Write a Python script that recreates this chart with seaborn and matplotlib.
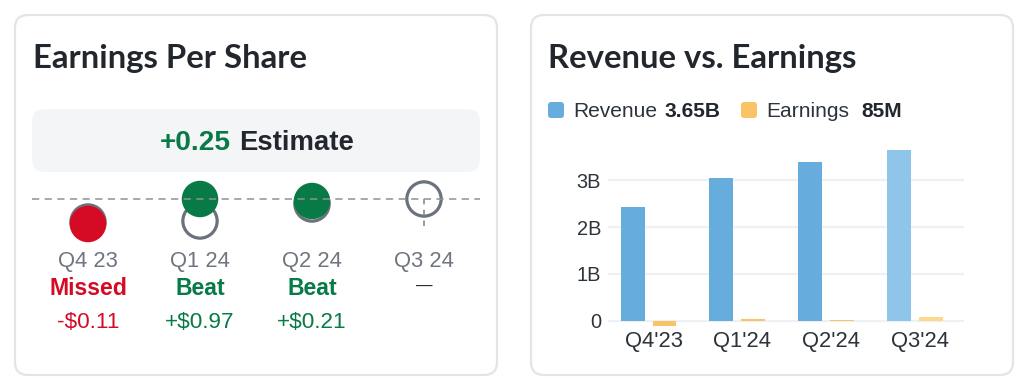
import numpy as np
import pandas as pd
import seaborn as sns
import matplotlib
matplotlib.use("Agg")
import matplotlib.pyplot as plt
from matplotlib.patches import FancyBboxPatch
from matplotlib.transforms import ScaledTranslation, blended_transform_factory

# ---------------- data ----------------
eps_quarters = ["Q4 23", "Q1 24", "Q2 24", "Q3 24"]
eps_estimate = [0.02, 0.03, 0.20, 0.25]
eps_actual = [0.00, 0.25, 0.23, np.nan]
eps_status = ["Missed", "Beat", "Beat", "—"]
eps_surprise = ["-$0.11", "+$0.97", "+$0.21", ""]
next_estimate_value = 0.25
next_estimate_label = "+0.25"

rev_quarters = ["Q4'23", "Q1'24", "Q2'24", "Q3'24"]
revenue_b = [2.42, 3.05, 3.40, 3.65]
earnings_b = [-0.107, 0.036, 0.02, 0.085]
rev_ticks = [0, 1, 2, 3]
rev_tick_labels = ["0", "1B", "2B", "3B"]
legend_names = ["Revenue", "Earnings"]
legend_values = ["3.65B", "85M"]

# ---------------- style ----------------
sns.set_theme(style="white")
plt.rcParams["font.family"] = ["Liberation Sans", "DejaVu Sans"]

DARK = "#22272e"
GRAY = "#6f7680"
RED = "#d50b26"
GREEN = "#077a46"
RING = "#6b727c"
BORDER = "#e2e4e8"
REV = "#66acdc"
REV_LIGHT = "#8fc5e9"
ERN = "#f8c466"
ERN_LIGHT = "#fdd98f"

W, H = 1032, 390
fig = plt.figure(figsize=(W / 100, H / 100), dpi=100)
fig.patch.set_facecolor("white")

bg = fig.add_axes([0, 0, 1, 1], zorder=0)
bg.set_xlim(0, W)
bg.set_ylim(H, 0)
bg.axis("off")

def px(v):
    return v * 0.72

# cards
for x0, x1 in [(15, 497), (531, 1013)]:
    bg.add_patch(FancyBboxPatch((x0, 15), x1 - x0, 360,
                                boxstyle="round,pad=0,rounding_size=13",
                                fc="white", ec=BORDER, lw=1.6))

# titles: pick the narrowest available bold face, size it to the card title width
renderer = fig.canvas.get_renderer()
candidates = [("Liberation Sans Narrow", "normal"), ("DejaVu Sans", "condensed"),
              ("Roboto", "normal"), ("Lato", "normal"), ("Liberation Sans", "normal")]
best = None
for fam, stretch in candidates:
    t = bg.text(0, 0, "Earnings Per Share", fontsize=px(35.5), fontweight="bold",
                family=fam, fontstretch=stretch)
    w = t.get_window_extent(renderer).width
    t.remove()
    if best is None or w < best[2]:
        best = (fam, stretch, w)
title_fam, title_stretch, title_w = best
title_size = px(35.5) * 274.0 / title_w

bg.text(33, 68, "Earnings Per Share", fontsize=title_size, fontweight="bold",
        family=title_fam, fontstretch=title_stretch, color=DARK,
        va="baseline", ha="left")
bg.text(548, 68, "Revenue vs. Earnings", fontsize=title_size, fontweight="bold",
        family=title_fam, fontstretch=title_stretch, color=DARK,
        va="baseline", ha="left")

# estimate box
bg.add_patch(FancyBboxPatch((32, 109), 448, 63,
                            boxstyle="round,pad=0,rounding_size=13",
                            fc="#f4f5f7", ec="none"))
bg.text(231, 150, next_estimate_label, fontsize=px(28), fontweight="bold",
        color=GREEN, va="baseline", ha="right")
bg.text(239, 150, "Estimate", fontsize=px(27.5), fontweight="bold",
        color=DARK, va="baseline", ha="left")

# ---------------- EPS dot chart ----------------
ax1 = fig.add_axes([32 / W, (H - 250) / H, 448 / W, 80 / H], zorder=2)
ax1.patch.set_alpha(0)
xs = np.arange(len(eps_quarters))
eps_df = pd.DataFrame({"x": xs, "estimate": eps_estimate,
                       "actual": eps_actual, "status": eps_status})

sns.scatterplot(data=eps_df, x="x", y="estimate", s=610, color=RING,
                facecolor="none", edgecolor=RING, linewidth=2.3,
                ax=ax1, legend=False, zorder=3)
sns.scatterplot(data=eps_df.dropna(subset=["actual"]), x="x", y="actual",
                hue="status", palette={"Missed": RED, "Beat": GREEN},
                s=690, linewidth=0, ax=ax1, legend=False, zorder=4)
ax1.axhline(next_estimate_value, color="#8e939a", lw=1.3, ls=(0, (4, 3)),
            alpha=0.85, zorder=6)
ax1.vlines(xs[-1], next_estimate_value - 0.27, next_estimate_value,
           color="#8e939a", lw=1.3, ls=(0, (3, 3)), zorder=6)
ax1.set_xlim(-0.5, 3.5)
ax1.set_ylim(-0.26, 0.54)
ax1.axis("off")

tr = blended_transform_factory(ax1.transData, bg.transData)
for i, q in enumerate(eps_quarters):
    bg.text(i, 267, q, transform=tr, ha="center", va="baseline",
            fontsize=px(22), color=GRAY)
    st = eps_status[i]
    col = RED if st == "Missed" else (GREEN if st == "Beat" else DARK)
    if st == "—":
        bg.text(i, 290.5, st, transform=tr, ha="center", va="baseline",
                fontsize=px(16.5), color=DARK)
    else:
        bg.text(i, 295, st, transform=tr, ha="center", va="baseline",
                fontsize=px(23), fontweight="bold", color=col)
    if eps_surprise[i]:
        bg.text(i, 328, eps_surprise[i], transform=tr, ha="center",
                va="baseline", fontsize=px(22.5), color=col)

# ---------------- Revenue vs Earnings bars ----------------
ax2 = fig.add_axes([608 / W, (H - 330) / H, 356 / W, 190 / H], zorder=2)
ax2.patch.set_alpha(0)
bar_df = pd.DataFrame({
    "quarter": rev_quarters * 2,
    "series": [legend_names[0]] * 4 + [legend_names[1]] * 4,
    "value": revenue_b + earnings_b,
})
sns.barplot(data=bar_df, x="quarter", y="value", hue="series",
            palette={legend_names[0]: REV, legend_names[1]: ERN},
            width=0.72, gap=0.25, saturation=1, linewidth=0,
            errorbar=None, legend=False, ax=ax2)
for p in ax2.patches:
    xc = p.get_x() + p.get_width() / 2
    if xc > len(rev_quarters) - 1.5:
        fc = matplotlib.colors.to_hex(p.get_facecolor())
        p.set_facecolor(REV_LIGHT if fc == REV else ERN_LIGHT)

ax2.set_xlim(-0.457, 3.557)
ax2.set_ylim(-0.199, 3.861)
ax2.set_yticks(rev_ticks, rev_tick_labels)
ax2.grid(axis="y", color="#eef0f3", lw=1.6)
ax2.grid(axis="x", visible=False)
ax2.set_axisbelow(True)
for s in ax2.spines.values():
    s.set_visible(False)
ax2.tick_params(axis="y", length=0, pad=px(7), labelsize=px(20),
                labelcolor="#2d333a")
ax2.tick_params(axis="x", length=0, pad=1, labelsize=px(22),
                labelcolor="#2d333a")
ax2.set_xlabel("")
ax2.set_ylabel("")
off = ScaledTranslation(5 / 100, 0, fig.dpi_scale_trans)
for lab in ax2.get_xticklabels():
    lab.set_transform(lab.get_transform() + off)

# legend
for (sx, tx, vx), name, val, col in zip([(548, 573, 665), (741, 766, 861)],
                                        legend_names, legend_values, [REV, ERN]):
    bg.add_patch(FancyBboxPatch((sx, 102), 16, 16,
                                boxstyle="round,pad=0,rounding_size=3",
                                fc=col, ec="none"))
    bg.text(tx, 117, name, fontsize=px(21), color="#2d333a",
            va="baseline", ha="left")
    bg.text(vx, 117, val, fontsize=px(21), fontweight="bold", color=DARK,
            va="baseline", ha="left")

fig.savefig("out.png", dpi=100, facecolor="white")
